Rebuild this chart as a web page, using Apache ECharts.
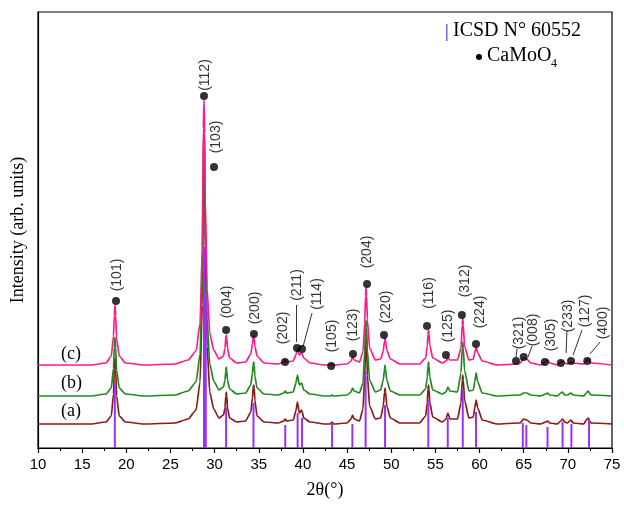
<!DOCTYPE html>
<html>
<head>
<meta charset="utf-8">
<script src="https://cdn.jsdelivr.net/npm/echarts@6/dist/echarts.min.js"></script>
<style>html,body{margin:0;padding:0;background:#fff}#c{width:624px;height:505px}</style>
</head>
<body>
<div id="c"></div>
<script>
// 2θ sample positions shared by the three patterns
const twoTheta = [10,16,17.7,18.3,18.55,18.64,18.72,18.8,18.9,19.2,19.9,22,25.5,27.0,27.9,28.35,28.6,28.72,28.8,28.88,28.95,29.15,29.45,29.9,30.5,31.0,31.18,31.26,31.32,31.38,31.46,31.7,32.5,33.5,34.1,34.28,34.36,34.42,34.48,34.56,34.8,35.6,37.2,37.85,38.0,38.15,38.9,39.2,39.38,39.6,39.85,40.1,40.8,42.5,43.1,43.3,43.5,45.0,45.45,45.62,45.8,46.4,46.8,47.0,47.09,47.15,47.21,47.3,47.55,48.2,48.8,49.1,49.24,49.3,49.36,49.5,49.9,51,53.2,53.9,54.08,54.16,54.22,54.28,54.36,54.7,55.8,56.2,56.42,56.65,57.5,57.9,58.04,58.1,58.16,58.3,58.8,59.3,59.45,59.62,59.8,60.3,62,64.3,64.6,65.0,65.35,65.8,66.9,67.5,67.7,67.95,68.8,69.2,69.4,69.65,69.95,70.35,70.6,71.8,72.1,72.3,72.6,75];
// (c) pink
const intensityC = [83,83,85,92,112,133,143,132,110,92,85,83,84,88,97,125,200,320,348,315,250,160,115,98,89,92,100,110,113,110,100,90,85,86,94,104,110,112,110,102,92,85,84,86,88,86,87,93,99,93,95,90,85,83,83,84,83,84,87,91,88,86,96,125,152,161,152,128,100,88,89,97,107,110,107,98,89,84,84,90,102,114,118,114,103,90,85,87,90,88,88,100,123,130,123,102,88,89,95,101,95,87,83,84,85,90,89,85,83,86,88,85,83,86,87,85,84,86,85,84,87,89,85,83];
// (b) green
const intensityB = [52,52,54,60,80,101,111,100,78,60,54,52,53,57,66,94,170,290,317,285,220,130,84,67,58,61,68,77,81,77,68,59,54,55,63,75,83,86,83,72,60,54,53,55,57,55,56,65,73,63,65,58,54,52,52,53,52,53,56,60,57,55,65,97,120,128,120,98,68,56,58,68,79,83,79,68,57,53,53,59,71,82,86,82,71,58,54,56,61,57,56,75,100,106,100,78,57,58,66,75,66,55,52,53,53,55,55,53,52,54,55,53,52,55,56,53,53,55,53,52,55,57,53,52];
// (a) dark red
const intensityA = [24,24,26,32,54,79,90,78,52,32,26,24,25,29,38,66,142,262,289,258,192,102,56,39,30,33,40,52,56,52,40,30,26,27,36,50,60,63,60,48,32,26,25,27,29,27,28,37,46,35,38,30,26,24,24,26,24,25,29,33,29,27,39,72,102,110,102,73,42,29,30,42,56,60,56,42,30,25,25,32,45,59,63,59,46,31,26,29,35,29,29,45,68,73,68,48,30,31,40,48,40,28,24,25,25,29,28,25,24,26,27,25,24,27,29,26,25,28,25,24,28,30,25,24];
// ICSD 60552 reference lines
const stickPos = [18.7,28.8,29.0,31.3,34.4,38.0,39.4,39.9,43.3,45.6,47.1,49.3,54.2,56.4,58.1,59.6,64.9,65.3,67.7,69.4,70.4,72.4];
const stickHeight = [65,201,151,41,45,23,35,30,24,24,77,43,48,30,58,36,25,23,21,26,24,28];
// CaMoO4 markers
const hklNames = ['(101)','(112)','(103)','(004)','(200)','(202)','(211)','(114)','(105)','(123)','(204)','(220)','(116)','(125)','(312)','(224)','(321)','(008)','(305)','(233)','(127)','(400)'];
const dotX = [18.83,28.8,29.93,31.3,34.45,37.97,39.33,39.9,43.2,45.67,47.26,49.18,54.05,56.2,58.0,59.6,64.13,65.0,67.4,69.2,70.36,72.2];
const dotY = [147,352,281,118,114,86,100,99,82,94,164,113,122,93,133,104,87,91,86,85,87,87];
const labelX = [18.95,28.9,30.16,31.4,34.6,37.75,39.3,41.6,43.3,45.67,47.26,49.4,54.3,56.4,58.36,60.05,64.5,66.06,68.1,70.0,71.95,74.0];
const labelY = [173,373,311,146,140,120,163,154,112,123,196,141,155,122,167,136,115,118,113,132,137,125];
// leader lines: [x1,y1,x2,y2]
const leaders = [[39.3,143,39.3,106],[41.03,135,40.0,101],[64.25,99,64.13,91],[65.95,102,65.5,91],[69.9,117,69.8,95],[71.6,118,70.6,93],[73.65,106,72.5,94]];
const xTicks = {min:10,max:75,interval:5};

const pair = (xs, ys) => xs.map((x,i)=>[x, ys[i]]);
const chart = echarts.init(document.getElementById('c'), null, {renderer:'canvas'});
const lineBase = {type:'line', showSymbol:false, symbol:'none', smooth:0.2, smoothMonotone:'x', animation:false};
chart.setOption({
  animation:false,
  backgroundColor:'#fff',
  grid:{left:38, right:12, top:12, bottom:57, show:true, borderColor:'#000', borderWidth:1.2},
  xAxis:{type:'value', min:xTicks.min, max:xTicks.max, interval:xTicks.interval,
    name:'2θ(°)', nameLocation:'middle', nameGap:33,
    nameTextStyle:{fontFamily:'Liberation Serif', fontSize:18, color:'#000'},
    axisLine:{show:true, onZero:false, lineStyle:{color:'#000', width:1.2}},
    axisTick:{show:true, inside:false, length:5, lineStyle:{color:'#000', width:1.2}},
    minorTick:{show:true, splitNumber:2, length:3, lineStyle:{color:'#000', width:1}},
    axisLabel:{fontFamily:'Liberation Sans', fontSize:15, color:'#000', margin:9},
    splitLine:{show:false}},
  yAxis:{type:'value', min:0, max:436,
    name:'Intensity (arb. units)', nameLocation:'middle', nameGap:11, nameRotate:90,
    nameTextStyle:{fontFamily:'Liberation Serif', fontSize:18, color:'#000'},
    axisLine:{show:true, onZero:false, lineStyle:{color:'#000', width:1.2}},
    axisTick:{show:false}, axisLabel:{show:false}, splitLine:{show:false}},
  series:[
    Object.assign({}, lineBase, {name:'(a)', data:pair(twoTheta,intensityA), lineStyle:{color:'#8b1a1a', width:1.7}, z:2}),
    Object.assign({}, lineBase, {name:'(b)', data:pair(twoTheta,intensityB), lineStyle:{color:'#1f8a1f', width:1.7}, z:3}),
    Object.assign({}, lineBase, {name:'(c)', data:pair(twoTheta,intensityC), lineStyle:{color:'#ff1a8c', width:1.7}, z:4}),
    {type:'bar', name:'ICSD', barWidth:2, data:pair(stickPos,stickHeight), itemStyle:{color:'#9a32f5'}, z:5, animation:false},
    {type:'scatter', name:'CaMoO4', symbol:'circle', symbolSize:8, itemStyle:{color:'#000'}, z:6,
      data:pair(dotX,dotY),
      markLine:{silent:true, symbol:['none','none'], label:{show:false}, lineStyle:{color:'#000', width:0.8, type:'solid'},
        data:leaders.map(l=>[{coord:[l[0],l[1]]},{coord:[l[2],l[3]]}])}},
    {type:'scatter', name:'hkl', symbolSize:2, itemStyle:{color:'rgba(255,255,255,0)'}, z:7,
      data:hklNames.map((n,i)=>({name:n, value:[labelX[i], labelY[i]]})),
      label:{show:true, position:'inside', rotate:90, formatter:'{b}', fontFamily:'Liberation Sans', fontSize:14, color:'#000'}}
  ],
  graphic:[
    {type:'text', left:61, top:345, style:{text:'(c)', font:'18px "Liberation Serif"', fill:'#000'}},
    {type:'text', left:61, top:374, style:{text:'(b)', font:'18px "Liberation Serif"', fill:'#000'}},
    {type:'text', left:61, top:402, style:{text:'(a)', font:'18px "Liberation Serif"', fill:'#000'}},
    {type:'rect', shape:{x:446, y:24, width:1.5, height:17}, style:{fill:'#7b68ee'}},
    {type:'text', left:453, top:21, style:{text:'ICSD N° 60552', font:'20px "Liberation Serif"', fill:'#000'}},
    {type:'circle', shape:{cx:479, cy:57, r:3}, style:{fill:'#000'}},
    {type:'text', left:487, top:46, style:{text:'CaMoO', font:'20px "Liberation Serif"', fill:'#000'}},
    {type:'text', left:551, top:58, style:{text:'4', font:'12px "Liberation Serif"', fill:'#000'}}
  ]
});
</script>
</body>
</html>
